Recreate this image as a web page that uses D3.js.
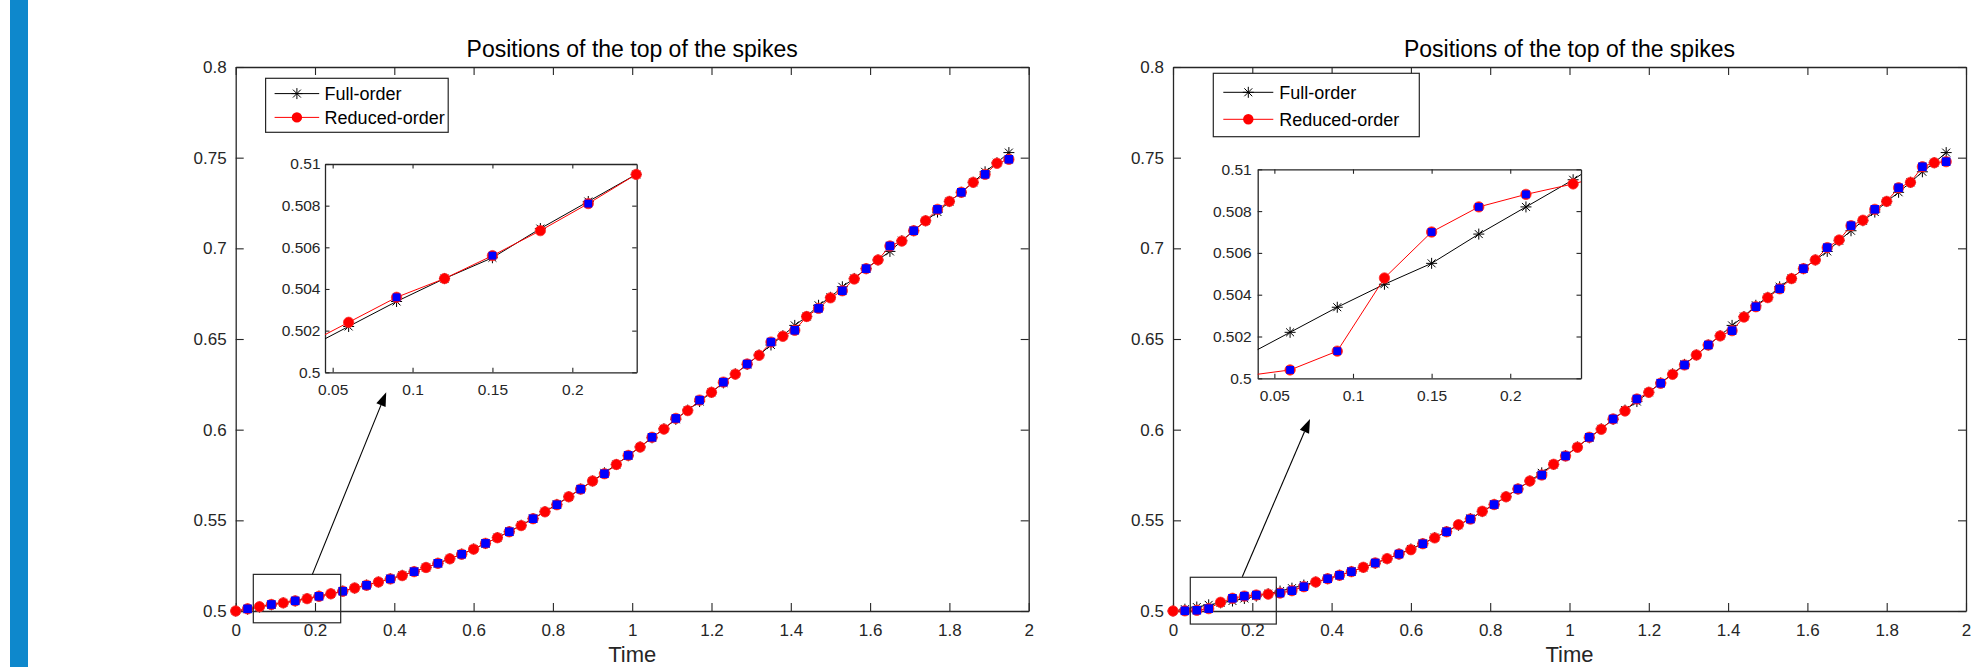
<!DOCTYPE html>
<html>
<head>
<meta charset="utf-8">
<title>Positions of the top of the spikes</title>
<style>
  body { margin: 0; background: #fff; }
  svg text { font-family: "Liberation Sans", Arial, Helvetica, sans-serif; }
</style>
</head>
<body>
<script src="https://d3js.org/d3.v7.min.js"></script>
<script>
// time samples (step 0.03)
var times = [0, 0.03, 0.06, 0.09, 0.12, 0.15, 0.18, 0.21, 0.24, 0.27,
  0.3, 0.33, 0.36, 0.39, 0.42, 0.45, 0.48, 0.51, 0.54, 0.57,
  0.6, 0.63, 0.66, 0.69, 0.72, 0.75, 0.78, 0.81, 0.84, 0.87,
  0.9, 0.93, 0.96, 0.99, 1.02, 1.05, 1.08, 1.11, 1.14, 1.17,
  1.2, 1.23, 1.26, 1.29, 1.32, 1.35, 1.38, 1.41, 1.44, 1.47,
  1.5, 1.53, 1.56, 1.59, 1.62, 1.65, 1.68, 1.71, 1.74, 1.77,
  1.8, 1.83, 1.86, 1.89, 1.92, 1.95];

// full-order solution (same in both panels)
var fullOrder = [0.5000, 0.5010, 0.5022, 0.5034, 0.5045, 0.5055, 0.5069, 0.5082, 0.5095, 0.5110,
  0.5126, 0.5143, 0.5160, 0.5178, 0.5197, 0.5218, 0.5240, 0.5263, 0.5288, 0.5314,
  0.5342, 0.5372, 0.5405, 0.5438, 0.5473, 0.5510, 0.5548, 0.5588, 0.5630, 0.5673,
  0.5717, 0.5762, 0.5808, 0.5856, 0.5905, 0.5955, 0.6005, 0.6057, 0.6108, 0.6155,
  0.6206, 0.6258, 0.6308, 0.6360, 0.6412, 0.6467, 0.6518, 0.6575, 0.6624, 0.6686,
  0.6730, 0.6788, 0.6834, 0.6888, 0.6936, 0.6983, 0.7042, 0.7097, 0.7152, 0.7200,
  0.7258, 0.7309, 0.7364, 0.7422, 0.7472, 0.7528];

// reduced-order, left panel
var reducedLeft = [0.5000, 0.5012, 0.5024, 0.5036, 0.5045, 0.5056, 0.5068, 0.5081, 0.5095, 0.5109,
  0.5127, 0.5142, 0.5160, 0.5177, 0.5195, 0.5217, 0.5240, 0.5263, 0.5288, 0.5313,
  0.5341, 0.5373, 0.5404, 0.5437, 0.5471, 0.5509, 0.5547, 0.5586, 0.5630, 0.5672,
  0.5717, 0.5757, 0.5808, 0.5858, 0.5904, 0.5958, 0.6003, 0.6062, 0.6105, 0.6163,
  0.6206, 0.6262, 0.6306, 0.6362, 0.6410, 0.6483, 0.6515, 0.6548, 0.6624, 0.6669,
  0.6727, 0.6766, 0.6831, 0.6888, 0.6936, 0.7013, 0.7040, 0.7097, 0.7152, 0.7215,
  0.7259, 0.7309, 0.7364, 0.7408, 0.7469, 0.7491];

// reduced-order, right panel
var reducedRight = [0.5000, 0.5001, 0.5004, 0.5013, 0.5048, 0.5070, 0.5082, 0.5088, 0.5093, 0.5099,
  0.5112, 0.5134, 0.5160, 0.5178, 0.5197, 0.5217, 0.5241, 0.5265, 0.5289, 0.5314,
  0.5338, 0.5371, 0.5403, 0.5437, 0.5476, 0.5507, 0.5550, 0.5587, 0.5630, 0.5673,
  0.5717, 0.5750, 0.5809, 0.5855, 0.5903, 0.5958, 0.6002, 0.6059, 0.6103, 0.6169,
  0.6206, 0.6256, 0.6305, 0.6357, 0.6412, 0.6467, 0.6517, 0.6546, 0.6621, 0.6678,
  0.6728, 0.6777, 0.6833, 0.6888, 0.6936, 0.7004, 0.7046, 0.7125, 0.7155, 0.7215,
  0.7259, 0.7334, 0.7364, 0.7450, 0.7472, 0.7478];

// sample indices drawn with blue squares
var squaresLeft = [1, 3, 5, 7, 9, 11, 13, 15, 17, 19, 21, 23, 25, 27, 29, 31, 33, 35, 37, 39,
  41, 43, 45, 47, 49, 51, 53, 55, 57, 59, 61, 63, 65];
var squaresRight = [1, 2, 3, 5, 6, 7, 9, 10, 11, 13, 14, 15, 17, 19, 21, 23, 25, 27, 29, 31,
  33, 35, 37, 39, 41, 43, 45, 47, 49, 51, 53, 55, 57, 59, 61, 63, 65];

var xTicks = [0, 0.2, 0.4, 0.6, 0.8, 1, 1.2, 1.4, 1.6, 1.8, 2];
var yTicks = [0.5, 0.55, 0.6, 0.65, 0.7, 0.75, 0.8];
var insetXTicks = [0.05, 0.1, 0.15, 0.2];
var insetYTicks = [0.5, 0.502, 0.504, 0.506, 0.508, 0.51];
var legendLabels = ['Full-order', 'Reduced-order'];
var titleText = 'Positions of the top of the spikes';

var W = 1987, H = 667;
var axCol = '#262626';
var fmt = d3.format('~g');

var svg = d3.select('body').append('svg')
  .attr('width', W)
  .attr('height', H);

svg.append('rect')
  .attr('x', 10).attr('y', 0)
  .attr('width', 18).attr('height', H)
  .attr('fill', '#0e88cc');

var panels = [
  {
    reduced: reducedLeft, squares: squaresLeft, left: 235.7,
    legend: {x: 265.6, y: 78.3, w: 182.6, h: 54, lx0: 274.6, lx1: 319.2, tx: 324.6, rows: [93.6, 117.4]},
    inset: {x0: 325, x1: 636.7, y0: 164, y1: 372.3, xdom: [0.0452, 0.2403], lab: 4.5},
    box: [0.0444, 0.2648, 0.4935, 0.5202],
    arrow: [0.1934, 0.5202, 0.3796, 0.6207]
  },
  {
    reduced: reducedRight, squares: squaresRight, left: 1173,
    legend: {x: 1213.3, y: 73.3, w: 206, h: 63.4, lx0: 1223.3, lx1: 1273.3, tx: 1279.3, rows: [92.3, 119.3]},
    inset: {x0: 1257.7, x1: 1581, y0: 169.3, y1: 378.3, xdom: [0.0394, 0.245], lab: 6},
    box: [0.0436, 0.2605, 0.4928, 0.5186],
    arrow: [0.1748, 0.5189, 0.3455, 0.6059]
  }
];

function asterisk(r) {
  var a = r * 0.72;
  return 'M' + (-r) + ',0L' + r + ',0M0,' + (-r) + 'L0,' + r +
    'M' + (-a) + ',' + (-a) + 'L' + a + ',' + a + 'M' + (-a) + ',' + a + 'L' + a + ',' + (-a);
}

function styleAxis(g, size) {
  g.select('.domain').attr('stroke', axCol).attr('stroke-width', 1.3);
  g.selectAll('.tick line').attr('stroke', axCol).attr('stroke-width', 1.1);
  g.selectAll('.tick text')
    .attr('fill', axCol)
    .attr('font-size', size + 'px')
    .style('font-family', '"Liberation Sans", Arial, sans-serif');
}

// draws the series on a pair of scales; markers limited to the visible range
function drawSeries(g, x, y, reduced, squares, dom, mk) {
  var full = times.map(function(t, i) { return {t: t, v: fullOrder[i]}; });
  var red = times.map(function(t, i) { return {t: t, v: reduced[i]}; });
  var sq = squares.map(function(i) { return {t: times[i], v: reduced[i]}; });
  var inDom = function(d) { return d.t >= dom[0] - 1e-6 && d.t <= dom[1] + 1e-6; };

  var line = d3.line().x(function(d) { return x(d.t); }).y(function(d) { return y(d.v); });

  g.append('path').datum(full)
    .attr('d', line).attr('fill', 'none').attr('stroke', '#000').attr('stroke-width', 1);
  g.selectAll('.ast').data(full.filter(inDom)).enter().append('path')
    .attr('class', 'ast')
    .attr('transform', function(d) { return 'translate(' + x(d.t) + ',' + y(d.v) + ')'; })
    .attr('d', asterisk(mk.ast))
    .attr('stroke', '#000').attr('stroke-width', 1).attr('fill', 'none');

  g.append('path').datum(red)
    .attr('d', line).attr('fill', 'none').attr('stroke', '#ff0000').attr('stroke-width', 1);
  g.selectAll('.circ').data(red.filter(inDom)).enter().append('circle')
    .attr('cx', function(d) { return x(d.t); })
    .attr('cy', function(d) { return y(d.v); })
    .attr('r', mk.r)
    .attr('fill', '#ff0000').attr('stroke', '#ff3030').attr('stroke-width', 0.8);
  g.selectAll('.sq').data(sq.filter(inDom)).enter().append('rect')
    .attr('x', function(d) { return x(d.t) - mk.s / 2; })
    .attr('y', function(d) { return y(d.v) - mk.s / 2; })
    .attr('width', mk.s).attr('height', mk.s)
    .attr('fill', '#0000ff');
}

panels.forEach(function(p, k) {
  var x = d3.scaleLinear().domain([0, 2]).range([p.left, p.left + 793]);
  var y = d3.scaleLinear().domain([0.5, 0.8]).range([611, 67]);
  var g = svg.append('g');

  // axes box with inward ticks
  g.append('g').attr('transform', 'translate(0,611)')
    .call(d3.axisBottom(x).tickValues(xTicks).tickFormat(fmt).tickSizeInner(-8).tickSizeOuter(0).tickPadding(12.5))
    .call(styleAxis, 17);
  g.append('g').attr('transform', 'translate(0,67)')
    .call(d3.axisTop(x).tickValues(xTicks).tickFormat('').tickSizeInner(-8).tickSizeOuter(0))
    .call(styleAxis, 17);
  g.append('g').attr('transform', 'translate(' + p.left + ',0)')
    .call(d3.axisLeft(y).tickValues(yTicks).tickFormat(fmt).tickSizeInner(-8).tickSizeOuter(0).tickPadding(9))
    .call(styleAxis, 17);
  g.append('g').attr('transform', 'translate(' + (p.left + 793) + ',0)')
    .call(d3.axisRight(y).tickValues(yTicks).tickFormat('').tickSizeInner(-8).tickSizeOuter(0))
    .call(styleAxis, 17);

  g.selectAll('.domain').attr('fill', 'none');

  drawSeries(g.append('g'), x, y, p.reduced, p.squares, [0, 2], {r: 5.2, s: 8.6, ast: 5.5});

  // title and x label
  g.append('text')
    .attr('x', p.left + 396.5).attr('y', 57)
    .attr('text-anchor', 'middle')
    .attr('font-size', '23px').attr('fill', '#000')
    .text(titleText);
  g.append('text')
    .attr('x', x(1)).attr('y', 662)
    .attr('text-anchor', 'middle')
    .attr('font-size', '22px').attr('fill', axCol)
    .text('Time');

  // zoom box and arrow
  g.append('rect')
    .attr('x', x(p.box[0])).attr('y', y(p.box[3]))
    .attr('width', x(p.box[1]) - x(p.box[0]))
    .attr('height', y(p.box[2]) - y(p.box[3]))
    .attr('fill', 'none').attr('stroke', axCol).attr('stroke-width', 1.2);

  var ax0 = x(p.arrow[0]), ay0 = y(p.arrow[1]), ax1 = x(p.arrow[2]), ay1 = y(p.arrow[3]);
  var ang = Math.atan2(ay1 - ay0, ax1 - ax0);
  var hl = 14, hw = 5;
  var bx = ax1 - hl * Math.cos(ang), by = ay1 - hl * Math.sin(ang);
  g.append('line')
    .attr('x1', ax0).attr('y1', ay0).attr('x2', bx).attr('y2', by)
    .attr('stroke', '#000').attr('stroke-width', 1.1);
  g.append('path')
    .attr('d', 'M' + ax1 + ',' + ay1 +
      'L' + (bx + hw * Math.sin(ang)) + ',' + (by - hw * Math.cos(ang)) +
      'L' + (bx - hw * Math.sin(ang)) + ',' + (by + hw * Math.cos(ang)) + 'Z')
    .attr('fill', '#000');

  // legend
  var L = p.legend;
  var lg = g.append('g');
  lg.append('rect')
    .attr('x', L.x).attr('y', L.y).attr('width', L.w).attr('height', L.h)
    .attr('fill', '#fff').attr('stroke', axCol).attr('stroke-width', 1.2);
  legendLabels.forEach(function(lab, i) {
    var ry = L.rows[i];
    var mx = (L.lx0 + L.lx1) / 2;
    var col = i === 0 ? '#000' : '#ff0000';
    lg.append('line')
      .attr('x1', L.lx0).attr('x2', L.lx1).attr('y1', ry).attr('y2', ry)
      .attr('stroke', col).attr('stroke-width', 1);
    if (i === 0) {
      lg.append('path')
        .attr('transform', 'translate(' + mx + ',' + ry + ')')
        .attr('d', asterisk(5.5)).attr('stroke', '#000').attr('stroke-width', 1);
    } else {
      lg.append('circle').attr('cx', mx).attr('cy', ry).attr('r', 5.2).attr('fill', '#ff0000');
    }
    lg.append('text')
      .attr('x', L.tx).attr('y', ry + 6.4)
      .attr('font-size', '18px').attr('fill', '#000')
      .text(lab);
  });

  // inset
  var I = p.inset;
  var xi = d3.scaleLinear().domain(I.xdom).range([I.x0, I.x1]);
  var yi = d3.scaleLinear().domain([0.5, 0.51]).range([I.y1, I.y0]);
  var ig = g.append('g');
  ig.append('rect')
    .attr('x', I.x0).attr('y', I.y0).attr('width', I.x1 - I.x0).attr('height', I.y1 - I.y0)
    .attr('fill', '#fff');
  var cid = 'clip' + k;
  ig.append('clipPath').attr('id', cid).append('rect')
    .attr('x', I.x0).attr('y', I.y0).attr('width', I.x1 - I.x0).attr('height', I.y1 - I.y0);

  ig.append('g').attr('transform', 'translate(0,' + I.y1 + ')')
    .call(d3.axisBottom(xi).tickValues(insetXTicks).tickFormat(fmt).tickSizeInner(-4.5).tickSizeOuter(0).tickPadding(12))
    .call(styleAxis, 15.5);
  ig.append('g').attr('transform', 'translate(0,' + I.y0 + ')')
    .call(d3.axisTop(xi).tickValues(insetXTicks).tickFormat('').tickSizeInner(-4.5).tickSizeOuter(0))
    .call(styleAxis, 15.5);
  ig.append('g').attr('transform', 'translate(' + I.x0 + ',0)')
    .call(d3.axisLeft(yi).tickValues(insetYTicks).tickFormat(fmt).tickSizeInner(-4.5).tickSizeOuter(0).tickPadding(I.lab))
    .call(styleAxis, 15.5);
  ig.append('g').attr('transform', 'translate(' + I.x1 + ',0)')
    .call(d3.axisRight(yi).tickValues(insetYTicks).tickFormat('').tickSizeInner(-4.5).tickSizeOuter(0))
    .call(styleAxis, 15.5);
  ig.selectAll('.domain').attr('fill', 'none');

  var sg = ig.append('g');
  drawSeries(sg, xi, yi, p.reduced, p.squares, I.xdom, {r: 5.2, s: 7.8, ast: 5.5});
  sg.selectAll('path:not(.ast)').attr('clip-path', 'url(#' + cid + ')');
});
</script>
</body>
</html>
